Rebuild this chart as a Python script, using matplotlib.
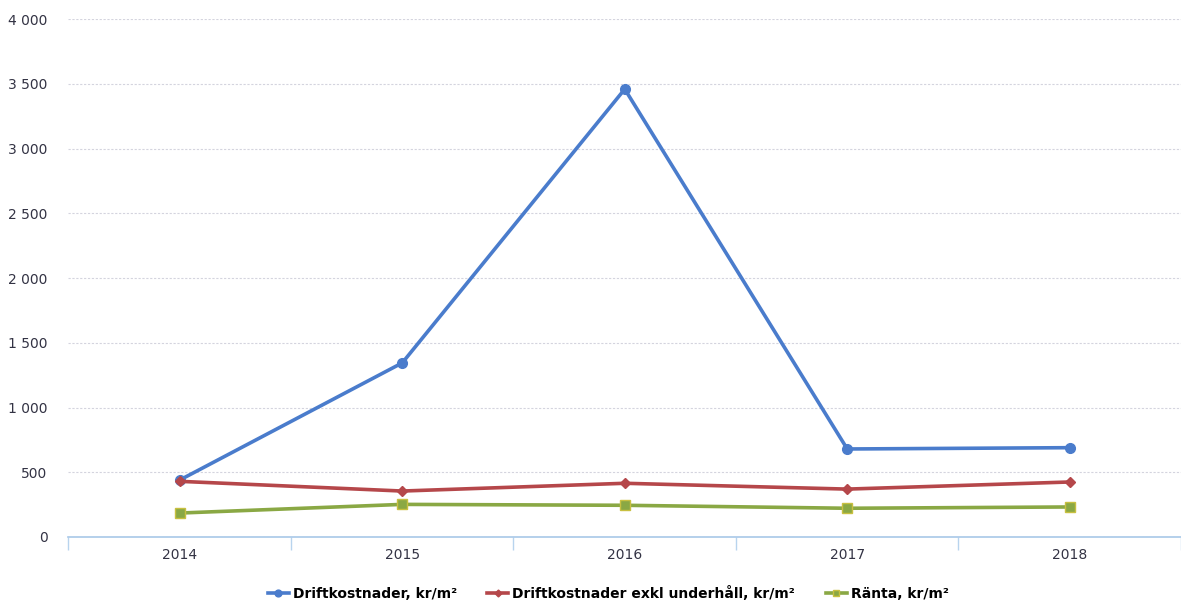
import numpy as np
import matplotlib as mpl
mpl.use('Agg')
import matplotlib.pyplot as plt
from matplotlib.ticker import FuncFormatter

years = ['2014', '2015', '2016', '2017', '2018']
drift = [440, 1345, 3460, 680, 690]
drift_exkl = [430, 355, 415, 370, 425]
ranta = [185, 252, 245, 222, 232]

yticks = [0, 500, 1000, 1500, 2000, 2500, 3000, 3500, 4000]

fig = plt.figure(figsize=(11.81, 6.0), dpi=100)
ax = fig.add_axes([0.058, 0.105, 0.942, 0.863])

x = np.arange(len(years))
ax.plot(x, drift, color='#4a7ccc', lw=2.6, marker='o', ms=7,
        label='Driftkostnader, kr/m²', zorder=3)
ax.plot(x, drift_exkl, color='#b5474a', lw=2.6, marker='D', ms=5,
        label='Driftkostnader exkl underhåll, kr/m²', zorder=3)
ax.plot(x, ranta, color='#8aa844', lw=2.6, marker='s', ms=7,
        mfc='#8aa844', mec='#c8c040', label='Ränta, kr/m²', zorder=3)

ax.set_xlim(-0.5, len(years) - 0.5)
ax.set_ylim(0, 4000)
ax.set_yticks(yticks)
ax.yaxis.set_major_formatter(FuncFormatter(lambda v, p: f'{int(v):,}'.replace(',', ' ')))
ax.set_xticks(x)
ax.set_xticklabels(years)
ax.set_xticks(np.arange(-0.5, len(years)), minor=True)

ax.grid(axis='y', color='#d4d4de', lw=0.8, ls=(0, (2, 1.5)))
ax.set_axisbelow(True)
for s in ['top', 'right', 'left']:
    ax.spines[s].set_visible(False)
ax.spines['bottom'].set_color('#a8c8e8')
ax.spines['bottom'].set_linewidth(1.2)

ax.tick_params(axis='y', length=0, pad=15, labelsize=10, labelcolor='#333344')
ax.tick_params(axis='x', which='major', length=0, pad=8, labelsize=10, labelcolor='#333344')
ax.tick_params(axis='x', which='minor', length=9, color='#b8d4ee', width=1, direction='out')

leg = fig.legend(loc='lower center', bbox_to_anchor=(0.515, -0.022), ncol=3, frameon=False,
                 prop={'family': 'DejaVu Sans', 'weight': 'bold', 'size': 10},
                 handlelength=1.5, handletextpad=0.3, columnspacing=2.2, markerscale=0.7)

plt.savefig('out.png', dpi=100)
